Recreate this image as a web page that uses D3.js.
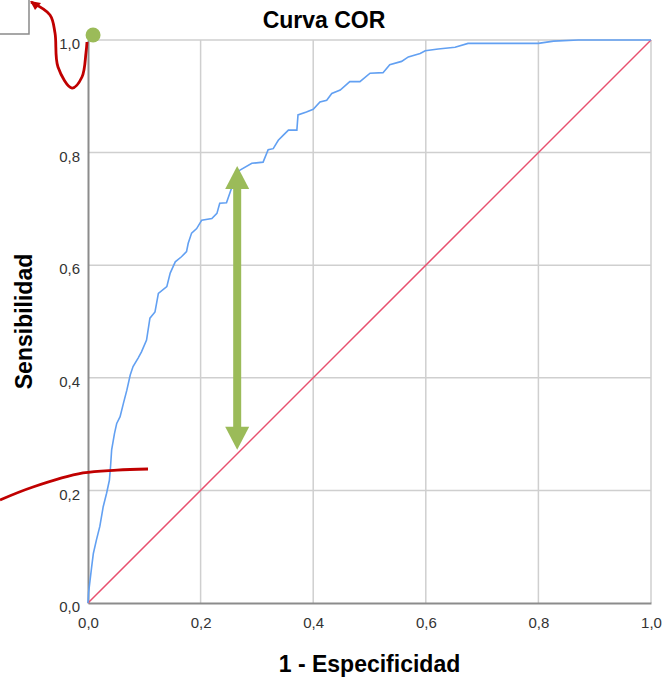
<!DOCTYPE html>
<html>
<head>
<meta charset="utf-8">
<script src="https://cdn.jsdelivr.net/npm/d3@7"></script>
<style>
  body { margin: 0; background: #fff; }
  svg { display: block; font-family: "Liberation Sans", Arial, sans-serif; }
</style>
</head>
<body>
<svg width="662" height="680"></svg>
<script>
// ROC curve points (1 - specificity, sensitivity)
let rocX = [0, 0.001, 0.0065, 0.0095, 0.015, 0.021, 0.027, 0.033, 0.038, 0.040, 0.042, 0.047, 0.051, 0.057,
    0.063, 0.069, 0.075, 0.080, 0.089, 0.095, 0.104, 0.110, 0.119, 0.125, 0.140, 0.146, 0.155, 0.166,
    0.175, 0.178, 0.184, 0.193, 0.202, 0.220, 0.229, 0.234, 0.246, 0.264, 0.270, 0.291, 0.311, 0.320,
    0.329, 0.338, 0.347, 0.356, 0.371, 0.373, 0.388, 0.400, 0.412, 0.424, 0.433, 0.448, 0.465, 0.483,
    0.501, 0.524, 0.536, 0.557, 0.569, 0.590, 0.599, 0.622, 0.652, 0.675, 0.800, 0.827, 0.871, 1.0];
let rocY = [0, 0.018, 0.064, 0.088, 0.112, 0.136, 0.171, 0.195, 0.218, 0.242, 0.272, 0.301, 0.319, 0.331,
    0.355, 0.378, 0.405, 0.420, 0.435, 0.446, 0.467, 0.506, 0.517, 0.550, 0.562, 0.586, 0.606, 0.615,
    0.624, 0.639, 0.657, 0.665, 0.680, 0.683, 0.692, 0.710, 0.711, 0.763, 0.769, 0.781, 0.783, 0.805,
    0.807, 0.822, 0.831, 0.840, 0.840, 0.867, 0.872, 0.877, 0.890, 0.893, 0.905, 0.911, 0.926, 0.926,
    0.941, 0.942, 0.956, 0.962, 0.970, 0.976, 0.981, 0.984, 0.987, 0.994, 0.994, 0.998, 1.0, 1.0];

// reference diagonal
let refX = [0, 1];
let refY = [0, 1];

let ticks = [0, 0.2, 0.4, 0.6, 0.8, 1.0];
let tickLabels = ["0,0", "0,2", "0,4", "0,6", "0,8", "1,0"];

// hand-drawn annotations, in data units
let loopX = [-0.1012, -0.0675, -0.0586, -0.0533, -0.0284, -0.0107, -0.0036, -0.0018];
let loopY = [1.0675, 1.0444, 1.0124, 0.952, 0.9147, 0.9343, 0.9769, 0.9964];
let swooshX = [-0.1563, -0.0977, -0.0089, 0.0515, 0.1066];
let swooshY = [0.183, 0.206, 0.231, 0.236, 0.238];
let arrowX = 0.265, arrowTop = 0.776, arrowBottom = 0.272;
let dotX = 0.009, dotY = 1.009;
let boxX = -0.1048, boxY = 1.0107;

let margin = { left: 88, top: 40 };
let width = 563, height = 563;

let svg = d3.select("svg");
let x = d3.scaleLinear().domain([0, 1]).range([margin.left, margin.left + width]);
let y = d3.scaleLinear().domain([0, 1]).range([margin.top + height, margin.top]);

// grid
let g = svg.append("g");
g.selectAll(".gx").data(ticks.slice(1)).enter().append("line")
    .attr("x1", d => x(d)).attr("x2", d => x(d))
    .attr("y1", y(0)).attr("y2", y(1))
    .style("stroke", "#cfcfcf").style("stroke-width", 1.5);
g.selectAll(".gy").data(ticks.slice(1)).enter().append("line")
    .attr("y1", d => y(d)).attr("y2", d => y(d))
    .attr("x1", x(0)).attr("x2", x(1))
    .style("stroke", "#cfcfcf").style("stroke-width", 1.5);

// axes
let xAxis = svg.append("g").attr("transform", `translate(0,${y(0)})`)
    .call(d3.axisBottom(x).tickValues(ticks).tickSize(0).tickPadding(14).tickFormat((d, i) => tickLabels[i]));
let yAxis = svg.append("g").attr("transform", `translate(${x(0)},0)`)
    .call(d3.axisLeft(y).tickValues(ticks).tickSize(0).tickPadding(8).tickFormat((d, i) => tickLabels[i]));
[xAxis, yAxis].forEach(a => {
    a.select(".domain").style("stroke", "#8c8c8c").style("stroke-width", 2);
    a.selectAll("text").style("font-size", "15px").style("fill", "#333").style("font-family", "Liberation Sans, Arial, sans-serif");
});
yAxis.selectAll("text").attr("dy", "0.85em").attr("y", -4);

// reference line
let line = d3.line().x(d => x(d[0])).y(d => y(d[1]));
svg.append("path")
    .datum(d3.zip(refX, refY))
    .attr("d", line)
    .style("fill", "none").style("stroke", "#e8506f").style("stroke-width", 1.5);

// ROC curve
svg.append("path")
    .datum(d3.zip(rocX, rocY))
    .attr("d", line)
    .style("fill", "none").style("stroke", "#62a0f2").style("stroke-width", 1.6);

// titles
svg.append("text").attr("x", 324).attr("y", 28).attr("text-anchor", "middle")
    .style("font-size", "23px").style("font-weight", "bold").text("Curva COR");
svg.append("text").attr("x", x(0.5)).attr("y", 672).attr("text-anchor", "middle")
    .style("font-size", "23px").style("font-weight", "bold").text("1 - Especificidad");
svg.append("text").attr("transform", `translate(32,${y(0.5)}) rotate(-90)`).attr("text-anchor", "middle")
    .style("font-size", "23px").style("font-weight", "bold").text("Sensibilidad");

// annotations
let ann = svg.append("g");
ann.append("path")
    .attr("d", `M${x(boxX)},0 V${y(boxY)} H0`)
    .style("fill", "none").style("stroke", "#8a8a8a").style("stroke-width", 1.5);

let curvy = d3.line().x(d => x(d[0])).y(d => y(d[1])).curve(d3.curveCatmullRom);
ann.append("path").datum(d3.zip(loopX, loopY)).attr("d", curvy)
    .style("fill", "none").style("stroke", "#c00000").style("stroke-width", 2.8);
// little arrow head on the loop
let tx = x(loopX[0]), ty = y(loopY[0]);
ann.append("path")
    .attr("d", `M${tx - 1},${ty - 1} L${tx + 10},${ty + 1} L${tx + 4},${ty + 8} Z`)
    .style("fill", "#c00000");
ann.append("path").datum(d3.zip(swooshX, swooshY)).attr("d", curvy)
    .style("fill", "none").style("stroke", "#c00000").style("stroke-width", 2.8);

ann.append("circle").attr("cx", x(dotX)).attr("cy", y(dotY)).attr("r", 7.5).style("fill", "#9bbb59");

// green double arrow
let ax = x(arrowX), a1 = y(arrowTop), a2 = y(arrowBottom), head = 23, hw = 12;
ann.append("line").attr("x1", ax).attr("x2", ax).attr("y1", a1 + head - 2).attr("y2", a2 - head + 2)
    .style("stroke", "#9bbb59").style("stroke-width", 8);
ann.append("path").attr("d", `M${ax},${a1} L${ax + hw},${a1 + head} L${ax - hw},${a1 + head} Z`).style("fill", "#9bbb59");
ann.append("path").attr("d", `M${ax},${a2} L${ax + hw},${a2 - head} L${ax - hw},${a2 - head} Z`).style("fill", "#9bbb59");
</script>
</body>
</html>
